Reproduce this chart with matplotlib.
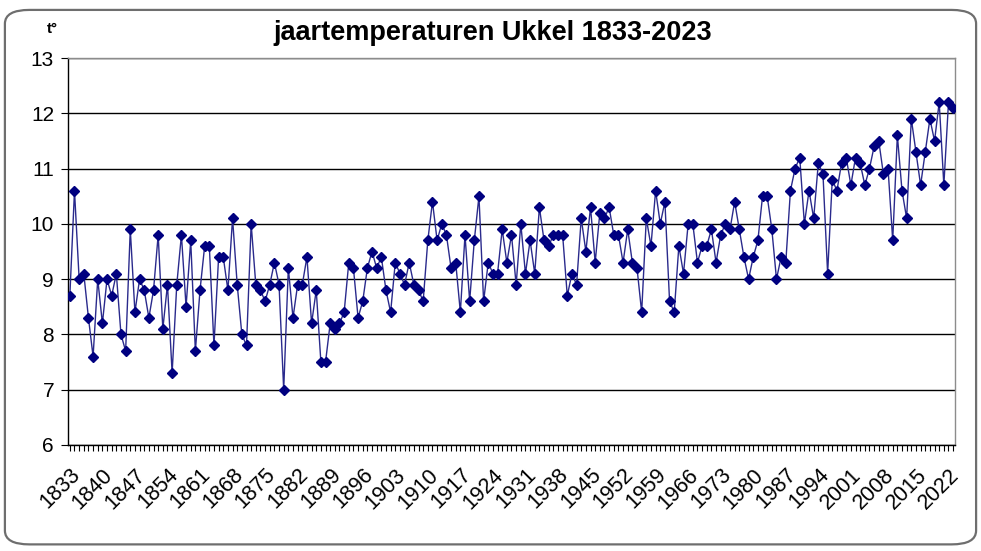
import matplotlib
matplotlib.use("Agg")
import matplotlib.pyplot as plt
from matplotlib.patches import FancyBboxPatch

plt.rcParams["font.family"] = ["Liberation Sans", "DejaVu Sans"]

# annual mean temperature Ukkel
years = list(range(1833, 2024))
temps = [
    8.7, 10.6, 9.0, 9.1, 8.3, 7.6, 9.0, 8.2, 9.0, 8.7,   # 1833-1842
    9.1, 8.0, 7.7, 9.9, 8.4, 9.0, 8.8, 8.3, 8.8, 9.8,    # 1843-1852
    8.1, 8.9, 7.3, 8.9, 9.8, 8.5, 9.7, 7.7, 8.8, 9.6,    # 1853-1862
    9.6, 7.8, 9.4, 9.4, 8.8, 10.1, 8.9, 8.0, 7.8, 10.0,  # 1863-1872
    8.9, 8.8, 8.6, 8.9, 9.3, 8.9, 7.0, 9.2, 8.3, 8.9,    # 1873-1882
    8.9, 9.4, 8.2, 8.8, 7.5, 7.5, 8.2, 8.1, 8.2, 8.4,    # 1883-1892
    9.3, 9.2, 8.3, 8.6, 9.2, 9.5, 9.2, 9.4, 8.8, 8.4,    # 1893-1902
    9.3, 9.1, 8.9, 9.3, 8.9, 8.8, 8.6, 9.7, 10.4, 9.7,   # 1903-1912
    10.0, 9.8, 9.2, 9.3, 8.4, 9.8, 8.6, 9.7, 10.5, 8.6,  # 1913-1922
    9.3, 9.1, 9.1, 9.9, 9.3, 9.8, 8.9, 10.0, 9.1, 9.7,   # 1923-1932
    9.1, 10.3, 9.7, 9.6, 9.8, 9.8, 9.8, 8.7, 9.1, 8.9,   # 1933-1942
    10.1, 9.5, 10.3, 9.3, 10.2, 10.1, 10.3, 9.8, 9.8, 9.3,  # 1943-1952
    9.9, 9.3, 9.2, 8.4, 10.1, 9.6, 10.6, 10.0, 10.4, 8.6,   # 1953-1962
    8.4, 9.6, 9.1, 10.0, 10.0, 9.3, 9.6, 9.6, 9.9, 9.3,     # 1963-1972
    9.8, 10.0, 9.9, 10.4, 9.9, 9.4, 9.0, 9.4, 9.7, 10.5,    # 1973-1982
    10.5, 9.9, 9.0, 9.4, 9.3, 10.6, 11.0, 11.2, 10.0, 10.6, # 1983-1992
    10.1, 11.1, 10.9, 9.1, 10.8, 10.6, 11.1, 11.2, 10.7, 11.2,  # 1993-2002
    11.1, 10.7, 11.0, 11.4, 11.5, 10.9, 11.0, 9.7, 11.6, 10.6,  # 2003-2012
    10.1, 11.9, 11.3, 10.7, 11.3, 11.9, 11.5, 12.2, 10.7, 12.2,  # 2013-2022
    12.1,                                                        # 2023
]
label_years = list(range(1833, 2024, 7))
y_ticks = list(range(6, 14))

fig = plt.figure(figsize=(9.81, 5.51), dpi=100)
fig.patch.set_facecolor("white")

# chart frame (rounded, like the spreadsheet chart object)
frame = FancyBboxPatch((0.005, 0.012), 0.99, 0.97,
                       boxstyle="round,pad=0,rounding_size=0.025",
                       transform=fig.transFigure, facecolor="white",
                       edgecolor="#6e6e6e", linewidth=1.6, zorder=-10)
fig.patches.append(frame)

ax = fig.add_axes([0.0693, 0.1924, 0.9042, 0.7023])
ax.set_zorder(5)
ax.set_facecolor("none")

ax.plot(years, temps, color="#2a2a8c", linewidth=1.0, marker="D",
        markersize=5.2, markerfacecolor="#000080", markeredgecolor="#000080",
        zorder=3)

ax.set_xlim(1832.6, 2023.4)
ax.set_ylim(6, 13)
ax.set_yticks(y_ticks)
ax.set_yticklabels([str(v) for v in y_ticks], fontsize=15)
ax.yaxis.grid(True, color="black", linewidth=1.0)
ax.set_axisbelow(True)

ax.set_xticks(label_years)
ax.set_xticklabels([str(y) for y in label_years], fontsize=15.5, rotation=45,
                   ha="right", va="top", rotation_mode="anchor")
ax.set_xticks(years, minor=True)
ax.tick_params(axis="x", which="both", length=4, width=0.8, direction="out", pad=10)
ax.tick_params(axis="y", length=5, width=0.8, pad=5)

for side in ("top", "right"):
    ax.spines[side].set_color("#8c8c8c")
    ax.spines[side].set_linewidth(1.0)
for side in ("left", "bottom"):
    ax.spines[side].set_color("black")
    ax.spines[side].set_linewidth(1.0)

fig.text(0.502, 0.940, "jaartemperaturen Ukkel 1833-2023", ha="center",
         va="center", fontsize=19.5, fontweight="bold")
fig.text(0.053, 0.948, "t°", ha="center", va="center", fontsize=11,
         fontweight="bold")

fig.savefig("out.png", dpi=100)
